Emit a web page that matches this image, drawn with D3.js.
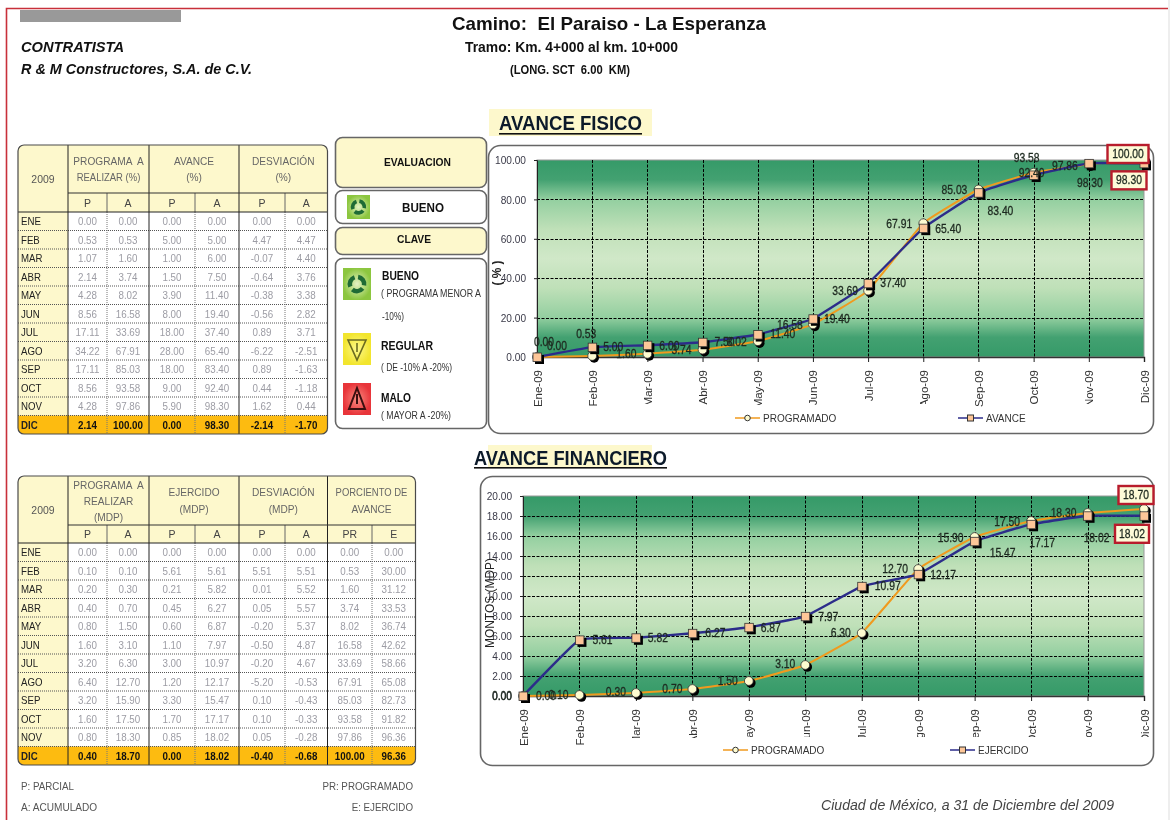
<!DOCTYPE html>
<html>
<head>
<meta charset="utf-8">
<script src="https://cdn.jsdelivr.net/npm/d3@7"></script>
<style>
  html, body { margin: 0; padding: 0; background: #fff; }
  svg { display: block; font-family: "Liberation Sans", Arial, sans-serif; filter: blur(0.35px); }
</style>
</head>
<body>
<div id="chart"></div>
<script>
// datos del reporte
const mesesGrafica = ["Ene-09", "Feb-09", "Mar-09", "Abr-09", "May-09", "Jun-09", "Jul-09", "Ago-09", "Sep-09", "Oct-09", "Nov-09", "Dic-09"];
const mesesTabla = ["ENE", "FEB", "MAR", "ABR", "MAY", "JUN", "JUL", "AGO", "SEP", "OCT", "NOV", "DIC"];

const fisProgP = [0.00, 0.53, 1.07, 2.14, 4.28, 8.56, 17.11, 34.22, 17.11, 8.56, 4.28, 2.14];
const fisProgA = [0.00, 0.53, 1.60, 3.74, 8.02, 16.58, 33.69, 67.91, 85.03, 93.58, 97.86, 100.00];
const fisAvP = [0.00, 5.00, 1.00, 1.50, 3.90, 8.00, 18.00, 28.00, 18.00, 9.00, 5.90, 0.00];
const fisAvA = [0.00, 5.00, 6.00, 7.50, 11.40, 19.40, 37.40, 65.40, 83.40, 92.40, 98.30, 98.30];
const fisDesP = [0.00, 4.47, -0.07, -0.64, -0.38, -0.56, 0.89, -6.22, 0.89, 0.44, 1.62, -2.14];
const fisDesA = [0.00, 4.47, 4.40, 3.76, 3.38, 2.82, 3.71, -2.51, -1.63, -1.18, 0.44, -1.70];

const finProgP = [0.00, 0.10, 0.20, 0.40, 0.80, 1.60, 3.20, 6.40, 3.20, 1.60, 0.80, 0.40];
const finProgA = [0.00, 0.10, 0.30, 0.70, 1.50, 3.10, 6.30, 12.70, 15.90, 17.50, 18.30, 18.70];
const finEjeP = [0.00, 5.61, 0.21, 0.45, 0.60, 1.10, 3.00, 1.20, 3.30, 1.70, 0.85, 0.00];
const finEjeA = [0.00, 5.61, 5.82, 6.27, 6.87, 7.97, 10.97, 12.17, 15.47, 17.17, 18.02, 18.02];
const finDesP = [0.00, 5.51, 0.01, 0.05, -0.20, -0.50, -0.20, -5.20, 0.10, 0.10, 0.05, -0.40];
const finDesA = [0.00, 5.51, 5.52, 5.57, 5.37, 4.87, 4.67, -0.53, -0.43, -0.33, -0.28, -0.68];
const finPorPR = [0.00, 0.53, 1.60, 3.74, 8.02, 16.58, 33.69, 67.91, 85.03, 93.58, 97.86, 100.00];
const finPorE = [0.00, 30.00, 31.12, 33.53, 36.74, 42.62, 58.66, 65.08, 82.73, 91.82, 96.36, 96.36];

const fisTicks = [0, 20, 40, 60, 80, 100];
const finTicks = [0, 2, 4, 6, 8, 10, 12, 14, 16, 18, 20];

// desplazamiento de cada etiqueta respecto a su punto
const fisProgOff = [[7,-15],[-6,-22],[-21,0],[-21,0],[-21,1],[-23,1],[-23,0],[-24,1],[-24,1],[-7,-15],[-24,2],[-16,-6]];
const fisAvOff = [[20,-11],[21,0],[22,1],[22,0],[25,-1],[24,0],[25,0],[25,1],[22,18],[-2,-2],[1,20],[-15,17]];
const finProgOff = [[-21,0],[-21,0],[-20,-1],[-20,0],[-21,0],[-20,-1],[-21,0],[-23,0],[-24,1],[-24,1],[-24,0],[-8,-14]];
const finEjeOff = [[23,0],[23,0],[22,0],[23,0],[22,1],[23,1],[26,0],[25,1],[28,12],[11,19],[9,22],[-12,18]];

// largo visible de cada etiqueta del eje x (las originales salen recortadas)
const fisCorte = [40, 40, 34, 40, 35, 40, 40, 34, 40, 40, 34, 40];
const finCorte = [40, 40, 29, 29, 28, 28, 28, 28, 28, 28, 28, 28];

const W = 1170, H = 820;
const svg = d3.select("#chart").append("svg").attr("width", W).attr("height", H);
const defs = svg.append("defs");

const crema = "#fdf8cc";

// texto; len fija el ancho en px, sq lo comprime por un factor
function txt(g, x, y, s, size, opts) {
  opts = opts || {};
  const t = g.append("text")
    .attr("x", x).attr("y", y)
    .attr("font-size", size)
    .attr("font-weight", opts.bold ? "bold" : null)
    .attr("font-style", opts.italic ? "italic" : null)
    .attr("text-anchor", opts.anchor || "start")
    .attr("dominant-baseline", opts.mid ? "central" : null)
    .attr("fill", opts.fill || "#111")
    .style("white-space", "pre")
    .text(s);
  if (opts.len || opts.sq) ajustar(t, opts.len, opts.sq);
  if (opts.halo) t.attr("stroke", opts.fill || "#111").attr("stroke-width", opts.halo);
  return t;
}

function ajustar(t, len, sq) {
  const w = len || t.node().getComputedTextLength() * sq;
  t.attr("textLength", w).attr("lengthAdjust", "spacingAndGlyphs");
}

// marco de la pagina
svg.append("path")
  .attr("d", "M6.5,820V8.5H1168")
  .attr("fill", "none").attr("stroke", "#c8303a").attr("stroke-width", 1.6);
svg.append("rect").attr("x", 1168).attr("y", 0).attr("width", 2).attr("height", H).attr("fill", "#eeeeee");

// encabezado
svg.append("rect").attr("x", 20).attr("y", 10).attr("width", 161).attr("height", 12).attr("fill", "#999999");
txt(svg, 452, 30, "Camino:  El Paraiso - La Esperanza", 19, {bold: true, len: 314});
txt(svg, 465, 52, "Tramo: Km. 4+000 al km. 10+000", 15, {bold: true, len: 213});
txt(svg, 510, 74, "(LONG. SCT  6.00  KM)", 12, {bold: true, len: 120});
txt(svg, 21, 52, "CONTRATISTA", 15, {bold: true, italic: true, len: 103});
txt(svg, 21, 74, "R & M Constructores, S.A. de C.V.", 15.5, {bold: true, italic: true, len: 231});

// tablas
function drawTable(cfg) {
  const g = svg.append("g");
  const xs = cfg.xs, y0 = cfg.y0, y1 = cfg.y1, y2 = cfg.y2, rowH = 18.5;
  const yEnd = y2 + rowH * 12;
  const clipId = "clip" + y0;
  defs.append("clipPath").attr("id", clipId).append("rect")
    .attr("x", xs[0]).attr("y", y0)
    .attr("width", xs[xs.length - 1] - xs[0]).attr("height", yEnd - y0).attr("rx", 6);

  const inner = g.append("g").attr("clip-path", `url(#${clipId})`);
  inner.append("rect").attr("x", xs[0]).attr("y", y0)
    .attr("width", xs[xs.length - 1] - xs[0]).attr("height", y2 - y0).attr("fill", crema);
  inner.append("rect").attr("x", xs[0]).attr("y", y2)
    .attr("width", xs[1] - xs[0]).attr("height", rowH * 11).attr("fill", crema);
  inner.append("rect").attr("x", xs[0]).attr("y", y2 + rowH * 11)
    .attr("width", xs[xs.length - 1] - xs[0]).attr("height", rowH).attr("fill", "#fdbb10");

  // filas punteadas
  inner.selectAll(".fila").data(d3.range(1, 12)).join("line")
    .attr("class", "fila")
    .attr("x1", xs[0]).attr("x2", xs[xs.length - 1])
    .attr("y1", d => y2 + rowH * d).attr("y2", d => y2 + rowH * d)
    .attr("stroke", "#555").attr("stroke-width", 1).attr("stroke-dasharray", "1,1");

  // separadores P / A
  const dobles = d3.range(2, xs.length - 1, 2);
  inner.selectAll(".sep").data(dobles).join("line")
    .attr("class", "sep")
    .attr("x1", i => xs[i]).attr("x2", i => xs[i])
    .attr("y1", y2).attr("y2", yEnd)
    .attr("stroke", "#777").attr("stroke-dasharray", "1,1");
  inner.selectAll(".sepH").data(dobles).join("line")
    .attr("class", "sepH")
    .attr("x1", i => xs[i]).attr("x2", i => xs[i])
    .attr("y1", y1).attr("y2", y2)
    .attr("stroke", "#666");

  // grupos
  const grupos = d3.range(1, xs.length - 1, 2);
  inner.selectAll(".grp").data(grupos).join("line")
    .attr("class", "grp")
    .attr("x1", i => xs[i]).attr("x2", i => xs[i])
    .attr("y1", y0).attr("y2", yEnd)
    .attr("stroke", "#222");
  inner.append("line").attr("x1", xs[1]).attr("x2", xs[xs.length - 1]).attr("y1", y1).attr("y2", y1).attr("stroke", "#333").attr("stroke-width", 1.2);
  inner.append("line").attr("x1", xs[0]).attr("x2", xs[xs.length - 1]).attr("y1", y2).attr("y2", y2).attr("stroke", "#222").attr("stroke-width", 1.2);

  g.append("rect").attr("x", xs[0]).attr("y", y0)
    .attr("width", xs[xs.length - 1] - xs[0]).attr("height", yEnd - y0).attr("rx", 6)
    .attr("fill", "none").attr("stroke", "#4a4a4a").attr("stroke-width", 1.2);

  // encabezados
  txt(g, (xs[0] + xs[1]) / 2, (y0 + y2) / 2, "2009", 11, {anchor: "middle", mid: true, fill: "#555", sq: 0.95});
  cfg.heads.forEach((lines, k) => {
    const cx = (xs[1 + k * 2] + xs[3 + k * 2]) / 2;
    const ym = (y0 + y1) / 2, lh = lines.length == 3 ? 16 : 16.5;
    lines.forEach((s, j) => {
      txt(g, cx, ym + (j - (lines.length - 1) / 2) * lh, s, 11, {anchor: "middle", mid: true, fill: "#666", sq: s.length > 11 ? 0.86 : 0.92});
    });
  });
  cfg.subs.forEach((s, k) => {
    txt(g, (xs[k + 1] + xs[k + 2]) / 2, (y1 + y2) / 2, s, 10.5, {anchor: "middle", mid: true, fill: "#444"});
  });

  // cuerpo
  mesesTabla.forEach((m, r) => {
    const yc = y2 + rowH * (r + 0.5), ultimo = r == 11;
    txt(g, xs[0] + 3, yc, m, 11.5, {mid: true, bold: ultimo, fill: "#222", sq: 0.84});
    cfg.cols.forEach((col, k) => {
      txt(g, (xs[k + 1] + xs[k + 2]) / 2, yc, col[r].toFixed(2), 11,
        {anchor: "middle", mid: true, bold: ultimo, fill: ultimo ? "#111" : "#9c9ca4", sq: 0.89});
    });
  });
}

drawTable({
  xs: [18, 68, 107, 149, 195, 239, 285, 327.5],
  y0: 145, y1: 193, y2: 212,
  heads: [["PROGRAMA  A", "REALIZAR (%)"], ["AVANCE", "(%)"], ["DESVIACIÓN", "(%)"]],
  subs: ["P", "A", "P", "A", "P", "A"],
  cols: [fisProgP, fisProgA, fisAvP, fisAvA, fisDesP, fisDesA]
});
drawTable({
  xs: [18, 68, 107, 149, 195, 239, 285, 327.5, 372, 415.5],
  y0: 476, y1: 525, y2: 543,
  heads: [["PROGRAMA  A", "REALIZAR", "(MDP)"], ["EJERCIDO", "(MDP)"], ["DESVIACIÓN", "(MDP)"], ["PORCIENTO DE", "AVANCE"]],
  subs: ["P", "A", "P", "A", "P", "A", "PR", "E"],
  cols: [finProgP, finProgA, finEjeP, finEjeA, finDesP, finDesA, finPorPR, finPorE]
});

// notas al pie
txt(svg, 21, 790, "P: PARCIAL", 10.5, {fill: "#555", sq: 0.93});
txt(svg, 21, 811, "A: ACUMULADO", 10.5, {fill: "#555", sq: 0.96});
txt(svg, 413, 790, "PR: PROGRAMADO", 10.5, {anchor: "end", fill: "#555", sq: 0.93});
txt(svg, 413, 811, "E: EJERCIDO", 10.5, {anchor: "end", fill: "#555", sq: 0.93});
txt(svg, 821, 810, "Ciudad de México, a 31 de Diciembre del 2009", 14.6, {italic: true, fill: "#444", len: 293});

// panel de evaluacion
function caja(x, y, w, h, fill, rx) {
  svg.append("rect").attr("x", x).attr("y", y).attr("width", w).attr("height", h).attr("rx", rx || 7)
    .attr("fill", fill).attr("stroke", "#666").attr("stroke-width", 1.6);
}
caja(335.5, 137.5, 151, 50, crema);
caja(335.5, 190.5, 151, 33, "#fff");
caja(335.5, 227.5, 151, 27, crema);
caja(335.5, 258.5, 151, 170, "#fff");
txt(svg, 384, 162, "EVALUACION", 11, {mid: true, bold: true, len: 67});
txt(svg, 402, 207, "BUENO", 13, {mid: true, bold: true, len: 42});
txt(svg, 397, 239, "CLAVE", 11.5, {mid: true, bold: true, len: 34});
txt(svg, 382, 276, "BUENO", 12, {mid: true, bold: true, len: 37});
txt(svg, 381, 293, "( PROGRAMA MENOR A", 11, {mid: true, fill: "#333", len: 100});
txt(svg, 382, 316, "-10%)", 11, {mid: true, fill: "#333", len: 22});
txt(svg, 381, 346, "REGULAR", 12, {mid: true, bold: true, len: 52});
txt(svg, 381, 367, "( DE -10% A -20%)", 11, {mid: true, fill: "#333", len: 71});
txt(svg, 381, 398, "MALO", 12, {mid: true, bold: true, len: 30});
txt(svg, 381, 415, "( MAYOR A -20%)", 11, {mid: true, fill: "#333", len: 70});

// iconos
function degradado(id, borde, centro) {
  const g = defs.append("radialGradient").attr("id", id);
  g.append("stop").attr("offset", "0%").attr("stop-color", centro);
  g.append("stop").attr("offset", "100%").attr("stop-color", borde);
}
degradado("icoVerde", "#8cc63f", "#e4f2c4");
degradado("icoAmar", "#f2e52e", "#fdf98a");
degradado("icoRojo", "#e8353a", "#f98a80");

function icono(x, y, w, h, relleno, tipo) {
  const g = svg.append("g").attr("transform", `translate(${x},${y})`);
  g.append("rect").attr("width", w).attr("height", h).attr("fill", `url(#${relleno})`);
  const c = w / 2, m = h / 2;
  if (tipo == "bueno") {
    // tres flechas del simbolo de reciclaje
    const r = w * 0.32;
    [0, 120, 240].forEach(a => {
      const arco = d3.arc()({innerRadius: r * 0.55, outerRadius: r * 1.05, startAngle: 0.15, endAngle: 1.75});
      g.append("path").attr("d", arco).attr("fill", "#1f6b35")
        .attr("transform", `translate(${c},${m}) rotate(${a})`);
    });
  } else if (tipo == "regular") {
    g.append("path").attr("d", d3.line()([[c - 9, m - 9], [c + 9, m - 9], [c, m + 11]]) + "Z")
      .attr("fill", "none").attr("stroke", "#6b6b20").attr("stroke-width", 1.6);
    g.append("line").attr("x1", c).attr("x2", c).attr("y1", m - 6).attr("y2", m + 3)
      .attr("stroke", "#6b6b20").attr("stroke-width", 1.6);
  } else {
    g.append("path").attr("d", d3.line()([[c, m - 11], [c + 8, m + 10], [c - 8, m + 10]]) + "Z")
      .attr("fill", "none").attr("stroke", "#3a1010").attr("stroke-width", 2);
    g.append("line").attr("x1", c).attr("x2", c).attr("y1", m - 5).attr("y2", m + 5)
      .attr("stroke", "#3a1010").attr("stroke-width", 2);
  }
}
icono(347, 195, 23, 24, "icoVerde", "bueno");
icono(343, 268, 28, 32, "icoVerde", "bueno");
icono(343, 333, 28, 32, "icoAmar", "regular");
icono(343, 383, 28, 32, "icoRojo", "malo");

// titulos de las graficas
svg.append("rect").attr("x", 489).attr("y", 109).attr("width", 163).attr("height", 27).attr("fill", crema);
txt(svg, 499, 130, "AVANCE FISICO", 20, {bold: true, fill: "#0c1a2a", len: 143});
svg.append("rect").attr("x", 499).attr("y", 133).attr("width", 143).attr("height", 1.6).attr("fill", "#111");
svg.append("rect").attr("x", 488).attr("y", 445).attr("width", 164).attr("height", 22).attr("fill", crema);
txt(svg, 474, 465, "AVANCE FINANCIERO", 20, {bold: true, fill: "#0c1a2a", len: 193});
svg.append("rect").attr("x", 474).attr("y", 467).attr("width", 193).attr("height", 1.6).attr("fill", "#111");

// gradiente del area de trazo
const grad = defs.append("linearGradient").attr("id", "fondo").attr("x1", 0).attr("x2", 0).attr("y1", 0).attr("y2", 1);
[[0, "#359a68"], [0.1, "#43a171"], [0.2, "#93cfa0"], [0.35, "#bfe0b8"], [0.5, "#d0e8c8"], [0.65, "#bfe0b8"], [0.8, "#93cfa0"], [0.9, "#43a171"], [1, "#359a68"]]
  .forEach(s => grad.append("stop").attr("offset", s[0]).attr("stop-color", s[1]));

function drawChart(cfg) {
  caja(cfg.panel[0] + 0.5, cfg.panel[1] + 0.5, cfg.panel[2] - cfg.panel[0], cfg.panel[3] - cfg.panel[1], "#fff", 12);
  const g = svg.append("g").attr("class", cfg.name);
  const [px0, px1, py0, py1] = cfg.plot;

  const x = d3.scalePoint().domain(mesesGrafica).range([px0, px1]);
  const y = d3.scaleLinear().domain(cfg.domain).range([py1, py0]);

  g.append("rect").attr("x", px0).attr("y", py0).attr("width", px1 - px0).attr("height", py1 - py0)
    .attr("fill", "url(#fondo)").attr("stroke", "#999").attr("stroke-width", 1);

  // rejilla
  g.selectAll(".gridH").data(cfg.ticks.slice(1, -1)).join("line")
    .attr("class", "gridH")
    .attr("x1", px0).attr("x2", px1)
    .attr("y1", d => Math.round(y(d)) + 0.5).attr("y2", d => Math.round(y(d)) + 0.5)
    .attr("stroke", "#000").attr("stroke-dasharray", "3,1.5");
  g.selectAll(".gridV").data(mesesGrafica.slice(1, -1)).join("line")
    .attr("class", "gridV")
    .attr("x1", d => Math.round(x(d)) + 0.5).attr("x2", d => Math.round(x(d)) + 0.5)
    .attr("y1", py0).attr("y2", py1)
    .attr("stroke", "#000").attr("stroke-dasharray", "3,1.5");

  // ejes
  const axY = g.append("g").attr("transform", `translate(${px0},0)`)
    .call(d3.axisLeft(y).tickValues(cfg.ticks).tickFormat(d3.format(".2f")).tickSize(3).tickPadding(8));
  axY.selectAll("text").attr("font-size", 11.5).attr("fill", "#3a3a48").attr("font-family", null)
    .each(function() { ajustar(d3.select(this), null, 0.88); });
  axY.selectAll("line").attr("stroke", "#222");
  axY.select(".domain").attr("stroke", "#222");

  const axX = g.append("g").attr("transform", `translate(0,${py1})`)
    .call(d3.axisBottom(x).tickSize(5).tickPadding(0));
  axX.select(".domain").attr("stroke", "#333").attr("stroke-width", 1.4);
  axX.selectAll("line").attr("stroke", "#222");
  axX.selectAll("text")
    .attr("font-size", 11.5).attr("fill", "#333").attr("font-family", null)
    .attr("text-anchor", "end")
    .attr("dy", "0.35em")
    .attr("transform", "rotate(-90)")
    .attr("x", -13).attr("y", 0);
  // recorte de las etiquetas
  axX.selectAll(".tick").each(function(d, i) {
    const id = cfg.name + "-corte-" + i;
    defs.append("clipPath").attr("id", id).append("rect")
      .attr("x", -9).attr("y", 0).attr("width", 18).attr("height", 13 + cfg.corte[i]);
    d3.select(this).attr("clip-path", `url(#${id})`);
  });

  // series
  const linea = d3.line()
    .x((d, i) => x(mesesGrafica[i]))
    .y(d => y(d))
    .curve(d3.curveCardinal.tension(0.7));

  cfg.series.forEach(s => {
    g.append("path").datum(s.values).attr("d", linea)
      .attr("fill", "none").attr("stroke", s.color).attr("stroke-width", s.ancho);
  });

  cfg.series.forEach(s => {
    const sg = g.append("g");
    if (s.marker == "circle") {
      sg.selectAll(".sombra").data(s.values).join("circle").attr("class", "sombra")
        .attr("cx", (d, i) => x(mesesGrafica[i]) + 2).attr("cy", d => y(d) + 2).attr("r", 4.8).attr("fill", "#000");
      sg.selectAll(".marca").data(s.values).join("circle").attr("class", "marca")
        .attr("cx", (d, i) => x(mesesGrafica[i])).attr("cy", d => y(d)).attr("r", 4.4)
        .attr("fill", "#fdfbd0").attr("stroke", "#333").attr("stroke-width", 0.8);
    } else {
      sg.selectAll(".sombra").data(s.values).join("rect").attr("class", "sombra")
        .attr("x", (d, i) => x(mesesGrafica[i]) - 2).attr("y", d => y(d) - 2).attr("width", 9).attr("height", 9).attr("fill", "#000");
      sg.selectAll(".marca").data(s.values).join("rect").attr("class", "marca")
        .attr("x", (d, i) => x(mesesGrafica[i]) - 4).attr("y", d => y(d) - 4).attr("width", 8.5).attr("height", 8.5)
        .attr("fill", "#fdc698").attr("stroke", "#333").attr("stroke-width", 0.8);
    }
  });

  // etiquetas de datos
  cfg.series.forEach(s => {
    s.values.forEach((v, i) => {
      const lx = x(mesesGrafica[i]) + s.off[i][0], ly = y(v) + s.off[i][1];
      if (i == 11) {
        const bw = cfg.boxW[s.label], bh = 18;
        g.append("rect").attr("x", lx - bw / 2).attr("y", ly - bh / 2).attr("width", bw).attr("height", bh)
          .attr("fill", "#fdfbd8").attr("stroke", "#b81c2c").attr("stroke-width", 2.4);
      }
      txt(g, lx, ly, v.toFixed(2), 12, {anchor: "middle", mid: true, fill: "#1e2a20", sq: 0.86, halo: 0.3});
    });
  });

  // titulo del eje y
  txt(g, 0, 0, cfg.yTitle, cfg.yTitleSize, {anchor: "middle", mid: true, bold: cfg.yTitleBold, fill: "#222", len: cfg.yTitleLen})
    .attr("transform", `translate(${cfg.yTitlePos[0]},${cfg.yTitlePos[1]}) rotate(-90)`);

  // leyenda
  cfg.series.forEach((s, k) => {
    const lg = g.append("g").attr("transform", `translate(${cfg.legend[k]},${cfg.legend[2]})`);
    lg.append("line").attr("x1", 0).attr("x2", 25).attr("y1", 0).attr("y2", 0).attr("stroke", s.color).attr("stroke-width", 1.5);
    if (s.marker == "circle") {
      lg.append("circle").attr("cx", 12.5).attr("cy", 0).attr("r", 2.8).attr("fill", "#fdfbd0").attr("stroke", "#333");
    } else {
      lg.append("rect").attr("x", 9.5).attr("y", -3).attr("width", 6).attr("height", 6).attr("fill", "#fdc698").attr("stroke", "#333");
    }
    txt(lg, 28, 0, s.name, 10, {mid: true, fill: "#333"});
  });
}

drawChart({
  name: "fisico",
  panel: [488, 145, 1153, 433],
  plot: [537, 1144, 160, 357],
  domain: [0, 100],
  ticks: fisTicks,
  corte: fisCorte,
  boxW: {prog: 41, av: 35},
  yTitle: "( % )",
  yTitleSize: 12,
  yTitleBold: true,
  yTitleLen: 25,
  yTitlePos: [497, 273],
  legend: [735, 958, 418],
  series: [
    {label: "prog", name: "PROGRAMADO", values: fisProgA, off: fisProgOff, color: "#f09a1e", marker: "circle", ancho: 2},
    {label: "av", name: "AVANCE", values: fisAvA, off: fisAvOff, color: "#2c2c8a", marker: "rect", ancho: 2.4}
  ]
});

drawChart({
  name: "financiero",
  panel: [480, 476, 1153, 765],
  plot: [523, 1144, 496, 696],
  domain: [0, 20],
  ticks: finTicks,
  corte: finCorte,
  boxW: {prog: 35, av: 34},
  yTitle: "MONTOS (MDP)",
  yTitleSize: 13,
  yTitleBold: false,
  yTitleLen: 90,
  yTitlePos: [489, 603],
  legend: [723, 950, 750],
  series: [
    {label: "prog", name: "PROGRAMADO", values: finProgA, off: finProgOff, color: "#f09a1e", marker: "circle", ancho: 2},
    {label: "av", name: "EJERCIDO", values: finEjeA, off: finEjeOff, color: "#2c2c8a", marker: "rect", ancho: 2.4}
  ]
});
</script>
</body>
</html>
